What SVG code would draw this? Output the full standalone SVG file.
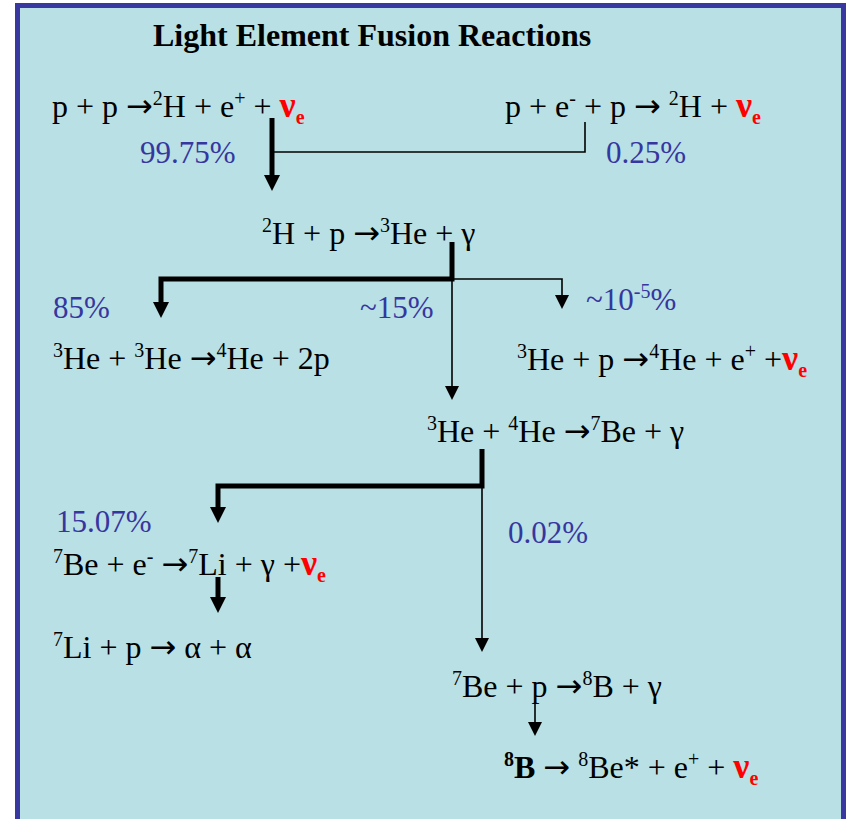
<svg xmlns="http://www.w3.org/2000/svg" width="847" height="819" viewBox="0 0 847 819">
<style>
text{font-family:"Liberation Serif","Times New Roman",serif;}
.t{font-size:32px;font-weight:bold;fill:#000}
.eq{font-size:32px;fill:#000}
.pct{font-size:31px;fill:#3636a0}
.sup{font-size:20px}
.ar{font-family:"Noto Sans","DejaVu Sans",sans-serif;font-size:32px}
.nu{fill:#ff0000;font-weight:bold;font-size:36px}
.sub{font-size:20px}
.thick{stroke:#000;stroke-width:5;fill:none;stroke-linejoin:miter}
.thin{stroke:#000;stroke-width:1.6;fill:none}
</style>
<defs>
<marker id="ah" markerUnits="userSpaceOnUse" markerWidth="16" markerHeight="16" refX="0" refY="7.5" orient="auto" viewBox="0 0 15 15">
<path d="M0,0 L15,7.5 L0,15 z" fill="#000"/>
</marker>
<marker id="ahs" markerUnits="userSpaceOnUse" markerWidth="14" markerHeight="14" refX="0" refY="7" orient="auto" viewBox="0 0 14 14">
<path d="M0,0 L14,7 L0,14 z" fill="#000"/>
</marker>
</defs>
<rect x="0" y="0" width="847" height="819" fill="#ffffff"/>
<rect x="17.5" y="5.5" width="826" height="830" fill="#b9e0e4" stroke="#3838a0" stroke-width="5"/>
<g id="title"><text class="t" x="153" y="46">Light Element Fusion Reactions</text></g>

<g id="connectors">
<path class="thick" d="M272,118 V175" marker-end="url(#ah)"/>
<path class="thin" d="M272,152 H585 V122"/>
<path class="thick" d="M452,242 V279 H161 V302" marker-end="url(#ah)"/>
<path class="thin" d="M452,279 H562 V295" marker-end="url(#ahs)"/>
<path class="thin" d="M452,279 V386" marker-end="url(#ahs)"/>
<path class="thick" d="M482,449 V486 H218 V507" marker-end="url(#ah)"/>
<path class="thin" d="M482,486 V638" marker-end="url(#ahs)"/>
<path class="thick" d="M218,577 V597" marker-end="url(#ah)"/>
<path class="thin" d="M535,703 V722" marker-end="url(#ahs)"/>
</g>

<g id="pp">
<text class="eq" x="52" y="117">p + p <tspan class="ar">→</tspan><tspan class="sup" dy="-12">2</tspan><tspan dy="12">H + e</tspan><tspan class="sup" dy="-12">+</tspan><tspan dy="12"> + </tspan><tspan class="nu">ν</tspan><tspan class="nu sub" dy="7">e</tspan></text>
</g>
<g id="pep">
<text class="eq" x="505" y="117">p + e<tspan class="sup" dy="-12">-</tspan><tspan dy="12"> + p </tspan><tspan class="ar">→</tspan><tspan> </tspan><tspan class="sup" dy="-12">2</tspan><tspan dy="12">H + </tspan><tspan class="nu">ν</tspan><tspan class="nu sub" dy="7">e</tspan></text>
</g>
<g id="pct1"><text class="pct" x="140" y="163">99.75%</text></g>
<g id="pct2"><text class="pct" x="606" y="163">0.25%</text></g>

<g id="dp">
<text class="eq" x="262" y="244"><tspan class="sup" dy="-12">2</tspan><tspan dy="12">H + p </tspan><tspan class="ar">→</tspan><tspan class="sup" dy="-12">3</tspan><tspan dy="12">He + γ</tspan></text>
</g>
<g id="pct3"><text class="pct" x="53" y="318">85%</text></g>
<g id="pct4"><text class="pct" x="360" y="318">~15%</text></g>
<g id="pct5"><text class="pct" x="586" y="310">~10<tspan class="sup" dy="-12">-5</tspan><tspan dy="12">%</tspan></text></g>

<g id="he3he3">
<text class="eq" x="53" y="369"><tspan class="sup" dy="-12">3</tspan><tspan dy="12">He + </tspan><tspan class="sup" dy="-12">3</tspan><tspan dy="12">He </tspan><tspan class="ar">→</tspan><tspan class="sup" dy="-12">4</tspan><tspan dy="12">He + 2p</tspan></text>
</g>
<g id="hep">
<text class="eq" x="517" y="370"><tspan class="sup" dy="-12">3</tspan><tspan dy="12">He + p </tspan><tspan class="ar">→</tspan><tspan class="sup" dy="-12">4</tspan><tspan dy="12">He + e</tspan><tspan class="sup" dy="-12">+</tspan><tspan dy="12"> +</tspan><tspan class="nu">ν</tspan><tspan class="nu sub" dy="7">e</tspan></text>
</g>

<g id="he3he4">
<text class="eq" x="427" y="442"><tspan class="sup" dy="-12">3</tspan><tspan dy="12">He + </tspan><tspan class="sup" dy="-12">4</tspan><tspan dy="12">He </tspan><tspan class="ar">→</tspan><tspan class="sup" dy="-12">7</tspan><tspan dy="12">Be + γ</tspan></text>
</g>
<g id="pct6"><text class="pct" x="56" y="532">15.07%</text></g>
<g id="pct7"><text class="pct" x="508" y="543">0.02%</text></g>

<g id="be7e">
<text class="eq" x="53" y="575"><tspan class="sup" dy="-12">7</tspan><tspan dy="12">Be + e</tspan><tspan class="sup" dy="-12">-</tspan><tspan dy="12"> </tspan><tspan class="ar">→</tspan><tspan class="sup" dy="-12">7</tspan><tspan dy="12">Li + γ +</tspan><tspan class="nu">ν</tspan><tspan class="nu sub" dy="7">e</tspan></text>
</g>
<g id="li7p">
<text class="eq" x="53" y="658"><tspan class="sup" dy="-12">7</tspan><tspan dy="12">Li + p </tspan><tspan class="ar">→</tspan><tspan> α + α</tspan></text>
</g>

<g id="be7p">
<text class="eq" x="452" y="697"><tspan class="sup" dy="-12">7</tspan><tspan dy="12">Be + p </tspan><tspan class="ar">→</tspan><tspan class="sup" dy="-12">8</tspan><tspan dy="12">B + γ</tspan></text>
</g>
<g id="b8">
<text class="eq" x="504" y="778"><tspan class="sup" dy="-12" font-weight="bold">8</tspan><tspan dy="12" font-weight="bold">B</tspan><tspan> </tspan><tspan class="ar">→</tspan><tspan> </tspan><tspan class="sup" dy="-12">8</tspan><tspan dy="12">Be* + e</tspan><tspan class="sup" dy="-12">+</tspan><tspan dy="12"> + </tspan><tspan class="nu">ν</tspan><tspan class="nu sub" dy="7">e</tspan></text>
</g>
</svg>
